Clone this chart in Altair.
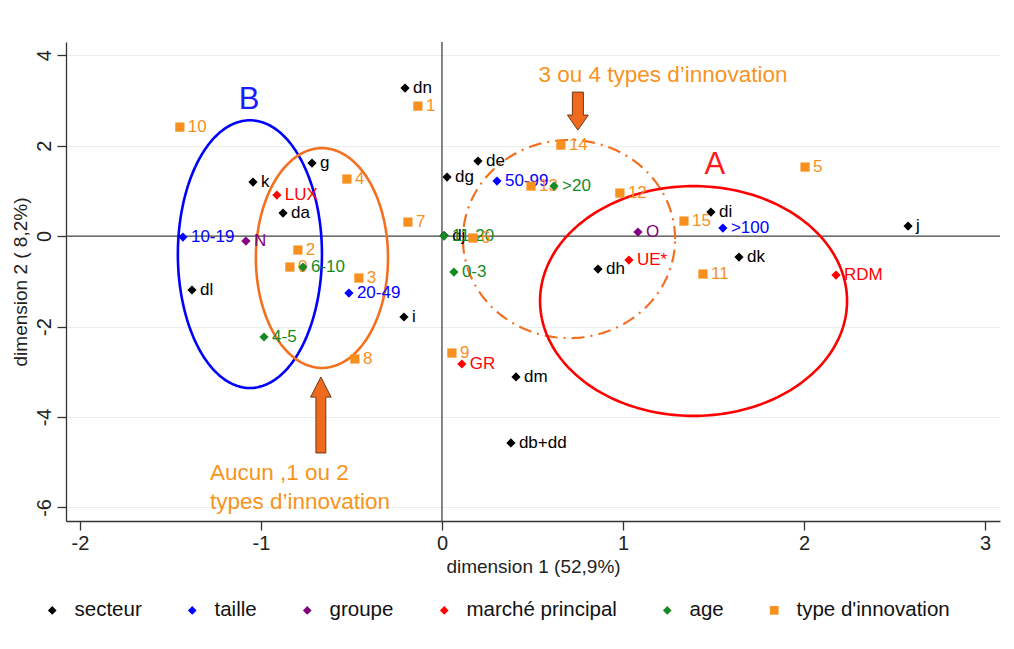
import altair as alt
import pandas as pd
import numpy as np

FONT = "Liberation Sans"

# ---- data ----
sec_lab = ["dn", "g", "k", "da", "dl", "i", "dg", "de", "dj", "dh", "di", "dk", "j", "dm", "db+dd"]
sec_x = [-0.204, -0.718, -1.044, -0.878, -1.381, -0.210, 0.028, 0.199, 0.012, 0.862, 1.486, 1.641, 2.575, 0.409, 0.381]
sec_y = [3.271, 1.613, 1.193, 0.508, -1.193, -1.790, 1.304, 1.657, 0.010, -0.729, 0.530, -0.464, 0.221, -3.116, -4.575]

tai_lab = ["10-19", "20-49", "50-99", ">100"]
tai_x = [-1.431, -0.514, 0.304, 1.552]
tai_y = [-0.022, -1.260, 1.215, 0.177]

grp_lab = ["N", "O"]
grp_x = [-1.083, 1.083]
grp_y = [-0.110, 0.088]

mar_lab = ["LUX", "UE*", "GR", "RDM"]
mar_x = [-0.912, 1.033, 0.110, 2.177]
mar_y = [0.906, -0.530, -2.829, -0.862]

age_lab = ["6-10", "4-5", "0-3", ">20", "11-20"]
age_x = [-0.768, -0.983, 0.066, 0.619, 0.011]
age_y = [-0.685, -2.232, -0.796, 1.105, 0.000]

typ_lab = ["0", "1", "2", "3", "4", "5", "6", "7", "8", "9", "10", "11", "12", "13", "14", "15"]
typ_x = [-0.840, -0.133, -0.796, -0.459, -0.525, 2.006, 0.171, -0.188, -0.481, 0.055, -1.448, 1.442, 0.983, 0.492, 0.657, 1.337]
typ_y = [-0.685, 2.873, -0.309, -0.928, 1.260, 1.525, -0.044, 0.309, -2.718, -2.586, 2.409, -0.840, 0.950, 1.105, 2.011, 0.331]

cats = ["secteur", "taille", "groupe", "marché principal", "age", "type d'innovation"]
cat_colors = ["#000000", "#0000FF", "#800080", "#FF0000", "#158A24", "#F7901E"]
cat_shapes = ["diamond", "diamond", "diamond", "diamond", "diamond", "square"]

# ellipses: name, cx, cy, rx, ry
ell_name = ["B", "aucun", "trois", "A"]
ell_cx = [-1.061, -0.663, 0.702, 1.390]
ell_cy = [-0.400, -0.486, -0.066, -1.436]
ell_rx = [0.398, 0.365, 0.586, 0.848]
ell_ry = [2.96, 2.43, 2.19, 2.54]
ell_color = ["#0000FF", "#F37021", "#F37021", "#FF0000"]

# annotations
ann_text = ["3 ou 4 types d’innovation", "Aucun ,1 ou 2", "types d’innovation"]
ann_x = [1.221, -1.282, -1.282]
ann_y = [3.558, -5.24, -5.88]
big_text = ["B", "A"]
big_x = [-1.066, 1.508]
big_y = [3.006, 1.569]
big_color = ["#1A1AFF", "#FF1A1A"]

# ---- build tables ----
col_of = dict(zip(cats, cat_colors))
rows = []
for cat, labs, xs_, ys_ in [
    ("secteur", sec_lab, sec_x, sec_y),
    ("taille", tai_lab, tai_x, tai_y),
    ("groupe", grp_lab, grp_x, grp_y),
    ("marché principal", mar_lab, mar_x, mar_y),
    ("age", age_lab, age_x, age_y),
    ("type d'innovation", typ_lab, typ_x, typ_y),
]:
    for l, a, b in zip(labs, xs_, ys_):
        rows.append({"cat": cat, "lab": l, "x": a, "y": b, "col": col_of[cat]})
df = pd.DataFrame(rows)

xscale = alt.Scale(domain=[-2.077, 3.083], nice=False, zero=False)
yscale = alt.Scale(domain=[-6.30, 4.29], nice=False, zero=False)
cscale = alt.Scale(domain=cats, range=cat_colors)
sscale = alt.Scale(domain=cats, range=cat_shapes)

X = alt.X("x:Q", scale=xscale, title="dimension 1 (52,9%)",
          axis=alt.Axis(values=[-2, -1, 0, 1, 2, 3], grid=False, tickSize=9, labelPadding=3,
                        titlePadding=4, labelExpr="'' + datum.value"))
Y = alt.Y("y:Q", scale=yscale, title="dimension 2 ( 8,2%)",
          axis=alt.Axis(values=[-6, -4, -2, 0, 2, 4], grid=True, gridColor="#E8EEEE", tickSize=9,
                        labelAngle=270, labelAlign="center", labelBaseline="bottom",
                        labelPadding=3, titlePadding=4, labelExpr="'' + datum.value"))

leg = alt.Legend(title=None, orient="none", legendX=-24, legendY=558, direction="horizontal",
                 labelFontSize=20.5, labelFont=FONT, labelColor="#111", symbolSize=75,
                 columnPadding=40, labelOffset=12, symbolStrokeWidth=0)

layers = []

# zero lines
zero = pd.DataFrame({"v": [0]})
layers.append(alt.Chart(zero).mark_rule(color="#444", strokeWidth=1.3).encode(x=alt.X("v:Q", scale=xscale)))
layers.append(alt.Chart(zero).mark_rule(color="#444", strokeWidth=1.3).encode(y=alt.Y("v:Q", scale=yscale)))

# ellipses
t = np.linspace(0, 2 * np.pi, 241)
for name, cx, cy, rx, ry, col in zip(ell_name, ell_cx, ell_cy, ell_rx, ell_ry, ell_color):
    e = pd.DataFrame({"ex": cx + rx * np.cos(t), "ey": cy + ry * np.sin(t), "o": np.arange(len(t))})
    kw = dict(color=col, strokeWidth=2.6)
    if name == "trois":
        kw["strokeDash"] = [13, 6, 2, 6]
        kw["strokeWidth"] = 2.2
    layers.append(alt.Chart(e).mark_line(**kw).encode(
        x=alt.X("ex:Q", scale=xscale), y=alt.Y("ey:Q", scale=yscale), order="o:Q"))

# labels
layers.append(alt.Chart(df).mark_text(align="left", baseline="middle", dx=8, fontSize=17, font=FONT).encode(
    x=alt.X("x:Q", scale=xscale), y=alt.Y("y:Q", scale=yscale), text="lab:N",
    color=alt.Color("col:N", scale=None)))

# points
layers.append(alt.Chart(df).mark_point(filled=True, opacity=1, size=85).encode(
    x=X, y=Y,
    color=alt.Color("cat:N", scale=cscale, legend=leg),
    shape=alt.Shape("cat:N", scale=sscale, legend=leg)))

# annotation texts
ann = pd.DataFrame({"t": ann_text, "x": ann_x, "y": ann_y})
layers.append(alt.Chart(ann.iloc[:1]).mark_text(align="center", baseline="middle", fontSize=22.5, font=FONT,
                                                  color="#F7941D").encode(
    x=alt.X("x:Q", scale=xscale), y=alt.Y("y:Q", scale=yscale), text="t:N"))
layers.append(alt.Chart(ann.iloc[1:]).mark_text(align="left", baseline="middle", fontSize=22.5, font=FONT,
                                                  color="#F7941D").encode(
    x=alt.X("x:Q", scale=xscale), y=alt.Y("y:Q", scale=yscale), text="t:N"))
big = pd.DataFrame({"t": big_text, "x": big_x, "y": big_y, "c": big_color})
layers.append(alt.Chart(big).mark_text(align="center", baseline="middle", fontSize=31, font=FONT).encode(
    x=alt.X("x:Q", scale=xscale), y=alt.Y("y:Q", scale=yscale), text="t:N",
    color=alt.Color("c:N", scale=None)))

# arrows
down_path = "M -0.29 -1 L 0.29 -1 L 0.29 0.21 L 0.55 0.21 L 0 1 L -0.55 0.21 L -0.29 0.21 Z"
up_path = "M 0 -1 L 0.27 -0.47 L 0.13 -0.47 L 0.13 1 L -0.13 1 L -0.13 -0.47 L -0.27 -0.47 Z"
arr_x = [0.751, -0.669]
arr_y = [2.762, -3.956]
arr_size = [1444, 5776]
arr_shape = [down_path, up_path]
for ax_, ay_, sz, sh in zip(arr_x, arr_y, arr_size, arr_shape):
    a = pd.DataFrame({"x": [ax_], "y": [ay_]})
    layers.append(alt.Chart(a).mark_point(shape=sh, size=sz, filled=True, fill="#F06A1E", opacity=1,
                                          stroke="#6B3A1A", strokeWidth=1).encode(
        x=alt.X("x:Q", scale=xscale), y=alt.Y("y:Q", scale=yscale)))

chart = alt.layer(*layers).properties(
    width=934, height=479,
    autosize=alt.AutoSizeParams(type="none"),
    padding={"left": 58, "top": 34, "right": 6, "bottom": 112},
).configure_view(stroke=None).configure_axis(
    labelFont=FONT, titleFont=FONT, labelFontSize=20, titleFontSize=19, titleFontWeight="normal",
    labelColor="#222", titleColor="#222", domainColor="#333", tickColor="#333", domainWidth=1.3,
    tickWidth=1.3,
)

chart.save("out.html", embed_options={"renderer": "svg", "actions": False})
